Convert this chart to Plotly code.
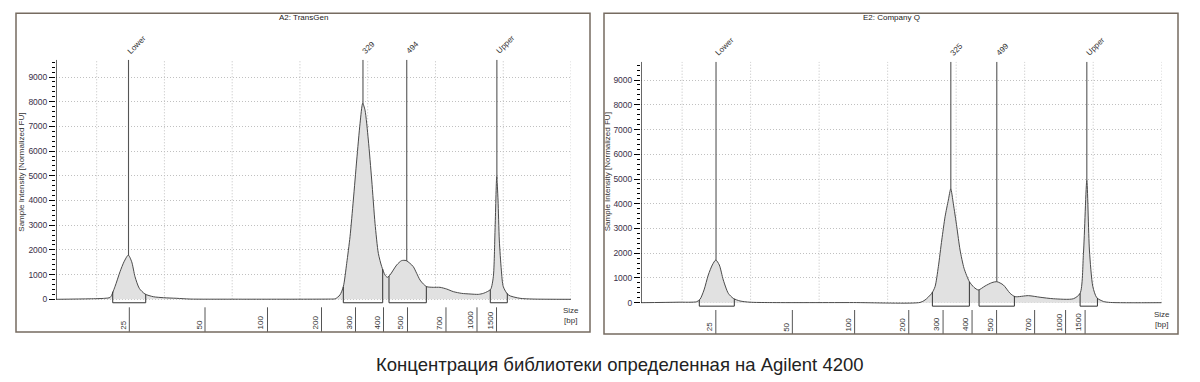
import numpy as np
import plotly.graph_objects as go

W, H = 1200, 382

# ---------------- data: panel A2 (TransGen) ----------------
a_title = "A2: TransGen"
a_time = [14.0, 19.0, 21.2, 22.0, 22.7, 23.45, 24.04, 24.67, 25.17, 25.66, 26.29, 27.13,
          28.36, 29.84, 31.81, 33.78, 40.0, 50.0, 54.5, 55.2, 55.9, 56.4, 56.9, 57.39,
          57.88, 58.38, 58.87, 59.26, 59.6, 60.09, 60.59, 61.08, 61.57, 62.07, 62.55,
          62.89, 63.29, 64.28, 65.0, 65.65, 66.24, 66.73, 67.23, 67.72, 68.21, 68.71,
          69.68, 70.67, 71.66, 72.63, 73.87, 75.10, 76.33, 77.06, 77.65, 78.15, 78.54,
          78.79, 79.04, 79.23, 79.42, 79.72, 80.01, 80.75, 82.48, 84.4, 90.0]
a_fu = [0, 20, 40, 80, 510, 1120, 1520, 1790, 1520, 915, 445, 215,
        105, 65, 40, 10, 5, 5, 10, 20, 175, 510, 1455, 2535,
        4020, 5640, 7125, 7935, 7660, 6450, 4830, 3075, 1860, 1320, 985,
        890, 985, 1390, 1565, 1570, 1455, 1320, 1050, 780, 620, 510,
        485, 485, 415, 310, 240, 215, 200, 240, 310, 405, 915,
        2800, 4960, 4020, 2400, 1185, 510, 175, 40, 10, 0]
a_markers = ["Lower", "329", "494", "Upper"]
a_marker_t = [24.7, 59.3, 65.76, 79.06]
a_region_start = [22.37, 56.40, 63.14, 78.09]
a_region_end = [27.24, 62.21, 68.65, 80.60]
a_ladder_t = [24.82, 35.99, 45.21, 53.18, 58.20, 62.33, 65.87, 71.55, 76.13, 79.01]

# ---------------- data: panel E2 (Company Q) ----------------
e_title = "E2: Company Q"
e_time = [14.0, 19.4, 22.13, 22.61, 23.20, 23.82, 24.41, 24.91, 25.43, 26.01, 26.74, 27.47,
          28.45, 29.91, 32.8, 45.0, 54.73, 55.46, 56.44, 56.92, 57.40, 57.90, 58.38, 58.86,
          59.21, 59.59, 60.09, 60.57, 61.15, 61.93, 62.61, 63.24, 64.22, 65.20, 65.93,
          66.89, 67.87, 68.60, 70.54, 72.25, 74.19, 77.11, 78.09, 78.58, 79.07, 79.45,
          79.95, 80.53, 81.50, 82.5, 90.0]
e_fu = [0, 20, 40, 135, 515, 1120, 1525, 1725, 1525, 920, 380, 175,
        70, 20, 5, 5, 10, 110, 380, 650, 1455, 2535, 3475, 4150,
        4600, 4000, 3070, 2130, 1390, 850, 620, 515, 675, 810, 850,
        715, 380, 245, 285, 220, 160, 160, 380, 2000, 4950, 2130,
        650, 200, 50, 10, 0]
e_markers = ["Lower", "325", "499", "Upper"]
e_marker_t = [24.95, 59.22, 65.93, 79.07]
e_region_start = [22.51, 56.53, 63.34, 78.09]
e_region_end = [27.62, 61.93, 68.50, 80.62]
e_ladder_t = [24.92, 36.09, 45.18, 53.08, 58.09, 62.32, 65.90, 71.45, 75.97, 78.82]

ladder_sizes = ["25", "50", "100", "200", "300", "400", "500", "700", "1000", "1500"]
y_ticks = [0, 1000, 2000, 3000, 4000, 5000, 6000, 7000, 8000, 9000]

caption = "Концентрация библиотеки определенная на Agilent 4200"
y_title = "Sample Intensity [Normalized FU]"

FONT = "Liberation Sans, Arial, sans-serif"


def py(p):
    return 1 - p / H


def px(p):
    return p / W


panels = [
    dict(title=a_title, t=a_time, fu=a_fu, markers=a_markers, mt=a_marker_t,
         rs=a_region_start, re=a_region_end, lt=a_ladder_t,
         frame=(16, 13.3, 590, 332), xdom=(56, 571), zero_px=299.3, ppk=24.7,
         ytop=9700, ylab_x=21.7, title_x=303, lab_bottom=331.5, tick_top=307.3,
         size_y=315),
    dict(title=e_title, t=e_time, fu=e_fu, markers=e_markers, mt=e_marker_t,
         rs=e_region_start, re=e_region_end, lt=e_ladder_t,
         frame=(604, 13.3, 1178, 334), xdom=(641, 1161.7), zero_px=302.7, ppk=24.74,
         ytop=9740, ylab_x=608.3, title_x=891, lab_bottom=333.5, tick_top=310,
         size_y=319),
]

fig = go.Figure()
shapes = []
annotations = []
YMIN = -400
XMIN, XMAX = 14, 90
LINE_C = "#4a4a4a"
GRID_C = "#c0c0c0"

for i, p in enumerate(panels):
    xa = "x" if i == 0 else "x2"
    ya = "y" if i == 0 else "y2"
    xkey = "xaxis" if i == 0 else "xaxis2"
    ykey = "yaxis" if i == 0 else "yaxis2"
    top_px = p["zero_px"] - p["ytop"] / 1000 * p["ppk"]
    bot_px = p["zero_px"] - YMIN / 1000 * p["ppk"]

    fig.update_layout(**{
        xkey: dict(domain=[px(p["xdom"][0]), px(p["xdom"][1])], range=[XMIN, XMAX],
                   showgrid=False, zeroline=False, showline=False, showticklabels=False,
                   ticks="", anchor=ya, fixedrange=True),
        ykey: dict(domain=[py(bot_px), py(top_px)], range=[YMIN, p["ytop"]],
                   tickmode="array", tickvals=y_ticks, ticks="outside", ticklen=6,
                   tickcolor="#000", tickwidth=1, showline=False, zeroline=False,
                   showgrid=True, gridcolor=GRID_C, griddash="1px,2px", gridwidth=1,
                   tickfont=dict(family=FONT, size=8.5, color="#3a3048"),
                   minor=dict(tickmode="array", tickvals=list(range(200, 9700, 200)),
                              ticks="outside", ticklen=3, tickcolor="#000"),
                   anchor=xa, fixedrange=True),
    })

    # vertical dotted grid
    for g in range(20, 91, 10):
        shapes.append(dict(type="line", xref=xa, yref=ya, x0=g, x1=g, y0=0, y1=p["ytop"],
                           line=dict(color=GRID_C, width=1, dash="1px,2px"), layer="below"))
    # y axis line
    shapes.append(dict(type="line", xref=xa, yref=ya, x0=XMIN, x1=XMIN, y0=0, y1=p["ytop"],
                       line=dict(color="#000", width=1.2)))

    t = np.array(p["t"], dtype=float)
    fu = np.array(p["fu"], dtype=float)
    fig.add_trace(go.Scatter(x=t, y=fu, mode="lines", fill="tozeroy", fillcolor="#e1e1e1",
                             line=dict(color=LINE_C, width=1, shape="spline", smoothing=0.7),
                             xaxis=xa, yaxis=ya, showlegend=False, hoverinfo="skip"))

    # integration region brackets
    for s, e in zip(p["rs"], p["re"]):
        fig.add_trace(go.Scatter(x=[s, s, e, e],
                                 y=[np.interp(s, t, fu), -140, -140, np.interp(e, t, fu)],
                                 mode="lines", line=dict(color="#333", width=1),
                                 xaxis=xa, yaxis=ya, showlegend=False, hoverinfo="skip"))

    # peak marker lines and labels
    for name, mt in zip(p["markers"], p["mt"]):
        fig.add_trace(go.Scatter(x=[mt, mt], y=[np.interp(mt, t, fu), p["ytop"]], mode="lines",
                                 line=dict(color="#555", width=1.1),
                                 xaxis=xa, yaxis=ya, showlegend=False, hoverinfo="skip"))
        annotations.append(dict(x=mt, y=p["ytop"], xref=xa, yref=ya, text=name,
                                showarrow=False, textangle=-45, xanchor="left",
                                yanchor="bottom", xshift=-5, yshift=1,
                                font=dict(family=FONT, size=8, color="#333")))

    # size ladder ticks below the plot
    for lab, lt in zip(ladder_sizes, p["lt"]):
        shapes.append(dict(type="line", xref=xa, yref="paper", x0=lt, x1=lt,
                           y0=py(p["frame"][3]), y1=py(p["tick_top"]),
                           line=dict(color="#555", width=1)))
        annotations.append(dict(x=lt, y=py(p["lab_bottom"]), xref=xa, yref="paper",
                                text=lab, showarrow=False, textangle=-90,
                                xanchor="right", yanchor="bottom", xshift=0,
                                font=dict(family=FONT, size=8, color="#333")))
    annotations.append(dict(x=px(p["xdom"][1]), y=py(p["size_y"]), xref="paper", yref="paper",
                            text="Size<br>[bp]", showarrow=False, xanchor="center",
                            yanchor="middle", align="center",
                            font=dict(family=FONT, size=8, color="#333")))

    # frame
    fx0, fy0, fx1, fy1 = p["frame"]
    shapes.append(dict(type="rect", xref="paper", yref="paper", x0=px(fx0), x1=px(fx1),
                       y0=py(fy1), y1=py(fy0), line=dict(color="#766b60", width=1.5)))
    # title
    annotations.append(dict(x=px(p["title_x"]), y=py(17), xref="paper", yref="paper",
                            text=p["title"], showarrow=False, xanchor="center",
                            yanchor="middle", font=dict(family=FONT, size=8, color="#222")))
    # y title
    annotations.append(dict(x=px(p["ylab_x"]), y=py(172), xref="paper", yref="paper",
                            text=y_title, showarrow=False, textangle=-90, xanchor="center",
                            yanchor="middle", font=dict(family=FONT, size=8, color="#333")))

annotations.append(dict(x=px(620), y=py(364), xref="paper", yref="paper", text=caption,
                        showarrow=False, xanchor="center", yanchor="middle",
                        font=dict(family="Liberation Sans Narrow, Liberation Sans, sans-serif",
                                  size=18.5, color="#222")))

fig.update_layout(width=W, height=H, margin=dict(l=0, r=0, t=0, b=0),
                  paper_bgcolor="white", plot_bgcolor="white",
                  shapes=shapes, annotations=annotations, showlegend=False)

fig.write_html("out.html", config={"displayModeBar": False},
               post_script="document.body.style.margin='0';document.body.style.padding='0';")
